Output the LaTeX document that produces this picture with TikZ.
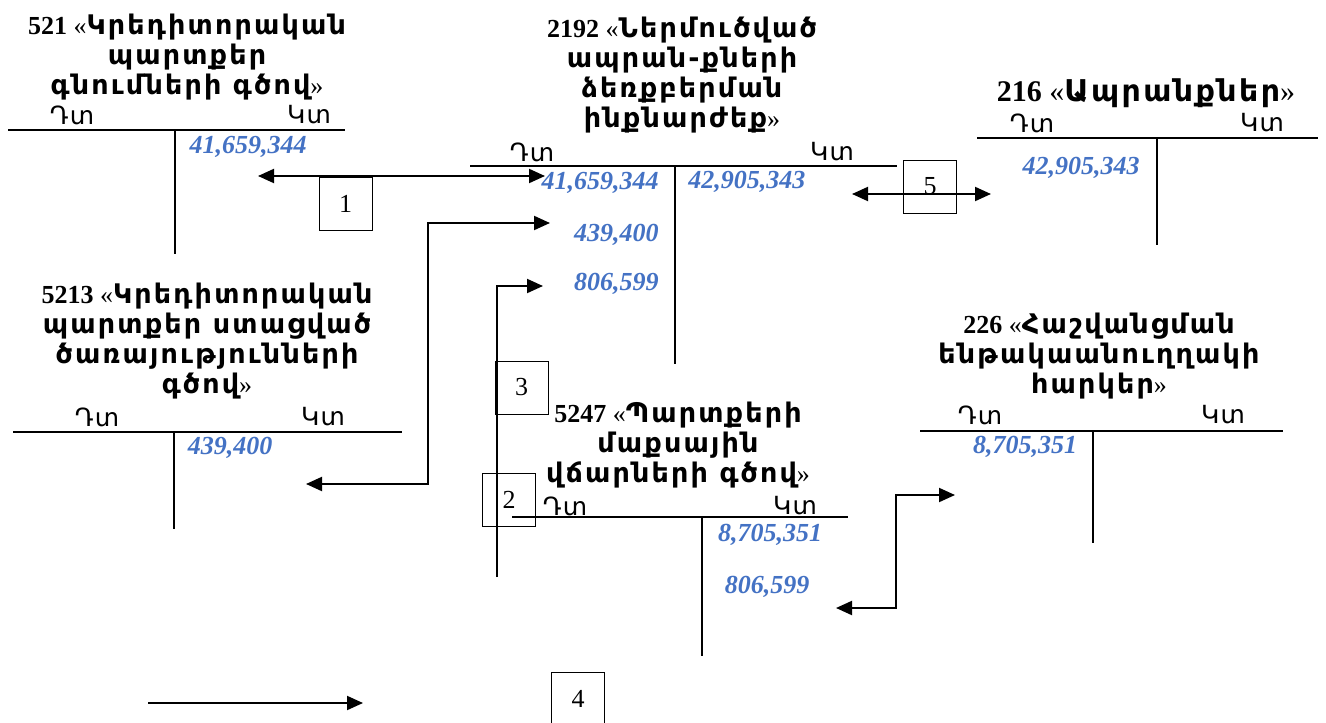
\documentclass[tikz,border=0pt]{standalone}
\usepackage{fontspec}
\setmainfont{Liberation Serif}
\newfontfamily\armfont[LetterSpace=8]{DejaVu Sans}
\newfontfamily\armsidefont[LetterSpace=5]{DejaVu Sans}
\usepackage{xcolor}
\usepackage{tikz}
\usetikzlibrary{arrows.meta, positioning}
\definecolor{SumBlue}{RGB}{68, 114, 196}
\newcommand{\arm}[1]{{\armfont\bfseries\fontsize{13.5pt}{15pt}\selectfont #1}}

\begin{document}
\begin{tikzpicture}[x=0.5pt, y=-0.5pt,
  title/.style={align=center, inner sep=0pt, font=\fontsize{13pt}{15pt}\selectfont},
  side/.style={inner sep=0pt, font=\armsidefont\fontsize{12.5pt}{14pt}\selectfont},
  sum/.style={inner sep=0pt, font=\fontsize{13pt}{15pt}\selectfont\bfseries\itshape\color{SumBlue}},
  rule/.style={line width=1pt},
  numbox/.style={draw, line width=0.5pt, minimum size=26.5pt, inner sep=0pt,
    font=\fontsize{13pt}{15pt}\selectfont},
  arr/.style={{Triangle[length=8pt,width=7pt]}-{Triangle[length=8pt,width=7pt]}, line width=1pt},
  sarr/.style={-{Triangle[length=8pt,width=7pt]}, line width=1pt}
]
\useasboundingbox (0,0) rectangle (1326,722);

% 521 - top left
\node[title] (t521) at (187,57) {{\bfseries 521} «\arm{Կրեդիտորական}\\\arm{պարտքեր}\\\arm{գնումների գծով}»};
\node[side] (d521) at (72,115) {Դտ};
\node[side] (k521) at (309,115) {Կտ};
\draw[rule] (8,130) -- (345,130);
\draw[rule] (175,130) -- (175,254);
\node[sum] (s521) at (248,147) {41,659,344};

% 2192 - top middle
\node[title] (t2192) at (682,75) {{\bfseries 2192} «\arm{Ներմուծված}\\\arm{ապրան-քների}\\\arm{ձեռքբերման}\\\arm{ինքնարժեք}»};
\node[side] (d2192) at (532,152) {Դտ};
\node[side] (k2192) at (832,152) {Կտ};
\draw[rule] (470,166) -- (897,166);
\draw[rule] (675,166) -- (675,364);
\node[sum, anchor=east] (s2192a) at (659,183) {41,659,344};
\node[sum, anchor=east] (s2192b) at (659,235) {439,400};
\node[sum, anchor=east] (s2192c) at (659,284) {806,599};
\node[sum, anchor=west] (s2192k) at (688,182) {42,905,343};

% 216 - top right
\node[title, font=\fontsize{15pt}{17pt}\selectfont] (t216) at (1146,93)
  {{\bfseries 216} «{\armfont\bfseries\fontsize{15pt}{17pt}\selectfont Ապրանքներ}»};
\node[side] (d216) at (1032,123) {Դտ};
\node[side] (k216) at (1262,123) {Կտ};
\draw[rule] (977,138) -- (1318,138);
\draw[rule] (1157,138) -- (1157,245);
\node[sum] (s216) at (1081,168) {42,905,343};

% 5213 - middle left
\node[title] (t5213) at (207,341) {{\bfseries 5213} «\arm{Կրեդիտորական}\\\arm{պարտքեր ստացված}\\\arm{ծառայությունների}\\\arm{գծով}»};
\node[side] (d5213) at (97,417) {Դտ};
\node[side] (k5213) at (323,417) {Կտ};
\draw[rule] (13,432) -- (402,432);
\draw[rule] (174,432) -- (174,529);
\node[sum] (s5213) at (230,448) {439,400};

% 5247 - bottom middle
\node[title] (t5247) at (678,445) {{\bfseries 5247} «\arm{Պարտքերի}\\\arm{մաքսային}\\\arm{վճարների գծով}»};
\node[side] (d5247) at (565,506) {Դտ};
\node[side] (k5247) at (795,506) {Կտ};
\draw[rule] (512,517) -- (848,517);
\draw[rule] (702,517) -- (702,656);
\node[sum] (s5247a) at (770,535) {8,705,351};
\node[sum] (s5247b) at (767,587) {806,599};

% 226 - middle right
\node[title] (t226) at (1099,356) {{\bfseries 226} «\arm{Հաշվանցման}\\\arm{ենթակաանուղղակի}\\\arm{հարկեր}»};
\node[side] (d226) at (980,415) {Դտ};
\node[side] (k226) at (1223,415) {Կտ};
\draw[rule] (920,431) -- (1283,431);
\draw[rule] (1093,431) -- (1093,543);
\node[sum] (s226) at (1025,447) {8,705,351};

% Entry 1
\coordinate (a1l) at (258,176);
\coordinate (a1r) at (545,176);
\draw[arr] (a1l) -- (a1r);
\node[numbox] (b1) at (345.5,203.5) {1};

% Entry 5
\coordinate (a5l) at (852,194);
\coordinate (a5r) at (991,194);
\node[numbox] (b5) at (930,186.5) {5};
\draw[arr] (a5l) -- (a5r);

% Entry 3
\coordinate (a3s) at (306,484);
\coordinate (a3c) at (428,484);
\coordinate (a3e) at (550,223);
\draw[arr] (a3s) -- (a3c) |- (a3e);
\node[numbox] (b3) at (521.5,387.5) {3};

% Entry 2
\coordinate (a2s) at (497,577);
\coordinate (a2e) at (543,286);
\draw[sarr] (a2s) |- (a2e);
\node[numbox] (b2) at (509,500) {2};

% 5247 - 226
\coordinate (e1) at (836,608);
\coordinate (e1c) at (896,608);
\coordinate (e2) at (955,495);
\draw[arr] (e1) -- (e1c) |- (e2);

% Entry 4
\coordinate (a4l) at (148,703);
\coordinate (a4r) at (363,703);
\draw[sarr] (a4l) -- (a4r);
\node[numbox] (b4) at (578,698.5) {4};
\end{tikzpicture}
\end{document}
